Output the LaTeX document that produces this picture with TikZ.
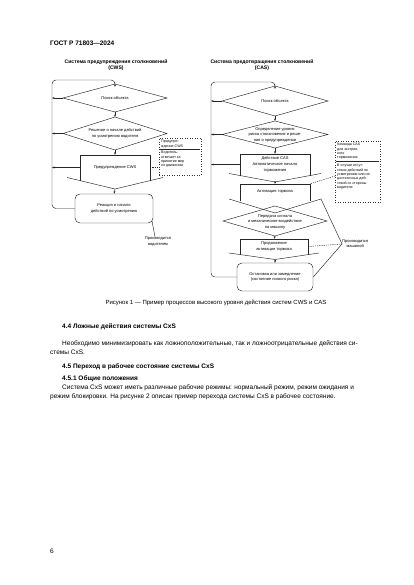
\documentclass[tikz,border=0pt]{standalone}
\usepackage{fontspec}
\setmainfont{Liberation Sans}
\usetikzlibrary{arrows.meta,calc}
\begin{document}
\begin{tikzpicture}[x=1pt,y=-1pt,
  ln/.style={line width=0.45pt,draw=black!85},
  arr/.style={ln,-{Stealth[length=2.6pt,width=2pt]}},
  dtxt/.style={font=\fontsize{4}{5.6}\selectfont,align=center,inner sep=0pt},
  ntxt/.style={font=\fontsize{3.6}{4.4}\selectfont,align=left,inner sep=0pt,anchor=north west},
  ttl/.style={font=\bfseries\fontsize{5.1}{6}\selectfont,align=center,inner sep=0pt},
  body/.style={font=\fontsize{6.5}{9}\selectfont,inner sep=0pt,anchor=base west},
  bhead/.style={font=\bfseries\fontsize{6.5}{9}\selectfont,inner sep=0pt,anchor=base west},
  boxr/.style={ln,draw,rounded corners=5pt,dtxt},
  notebox/.style={draw=black!80,dotted,line width=0.5pt,inner sep=0pt}]
\useasboundingbox[fill=white] (0,0) rectangle (414,585);

% header
\node[bhead] (hdr) at (50,45.5) {ГОСТ Р 71803—2024};

%================ LEFT (CWS) ================
\node[ttl] (ltl) at (116,65) {Система предупреждения столкновений\\(CWS)};

\coordinate (l1n) at (115,84); \coordinate (l1s) at (115,112);
\coordinate (l1w) at (63,98);  \coordinate (l1e) at (167,98);
\draw[ln] (l1n)--(l1e)--(l1s)--(l1w)--cycle;
\node[dtxt] (l1) at (115,98) {Поиск объекта};

\coordinate (l2n) at (115,117); \coordinate (l2s) at (115,150);
\coordinate (l2w) at (63,133.5); \coordinate (l2e) at (167,133.5);
\draw[ln] (l2n)--(l2e)--(l2s)--(l2w)--cycle;
\node[dtxt] (l2) at (115,133.5) {Решение о начале действий\\по усмотрению водителя};

\node[dtxt,minimum width=70pt,minimum height=25pt] (l3) at (115,167.5) {Предупреждение CWS};
\draw[ln] ($(l3.south west)+(0,1)$) -- (l3.north west) -- (l3.north east) -- ($(l3.south east)+(0,1)$);
\coordinate (l3a) at (115,189);
\coordinate (l3vl) at (67,177.5); \coordinate (l3vr) at (163,177.5);
\draw[ln] (l3vl) -- (l3a) -- (l3vr);

\node[notebox,minimum width=42pt,minimum height=37pt] (lnote) at (180,156.5) {};
\node[ntxt] (lnt1) at (161,140) {Предупре-\\ждение CWS};
\draw[ln,line width=0.35pt] (160,149.5) -- (200,149.5);
\node[ntxt] (lnt2) at (161,151) {Водитель-\\отвечает за\\принятие мер\\по движению};
\draw[ln,dashed,dash pattern=on 1.2pt off 1pt] (l3.east) -- (lnote.west |- l3.east);

\node[boxr,minimum width=78pt,minimum height=29pt] (l4) at (114,208.5) {Реакция и начало\\действий по усмотрению};
\node[dtxt] (lp) at (158,241.5) {Производится\\водителем};
\coordinate (l4c) at (152,221);
\draw[ln] (l4c) -- ($(lp.north)+(-3,0)$);

\draw[arr] (l1s) -- (l2n);
\draw[arr] (l2s) -- (l3.north);
\draw[arr] (l3a) -- (l4.north);

\coordinate (lxa) at (52,98); \coordinate (lxb) at (52,133.5); \coordinate (lxc) at (52,167.5);
\draw[arr] (l1w) -- (lxa);
\draw[arr] (l2w) -- (lxb);
\draw[arr] (l3.west) -- (lxc);
\draw[arr,rounded corners=4pt] (l4.west) -- (52,208.5) -- (52,80) -- (115,80) -- (l1n);

%================ RIGHT (CAS) ================
\node[ttl] (rtl) at (262,65) {Система предотвращения столкновений\\(CAS)};

\coordinate (r1n) at (275,86); \coordinate (r1s) at (275,116);
\coordinate (r1w) at (222,101); \coordinate (r1e) at (328,101);
\draw[ln] (r1n)--(r1e)--(r1s)--(r1w)--cycle;
\node[dtxt] (r1) at (275,101) {Поиск объекта};

\coordinate (r2n) at (275,121); \coordinate (r2s) at (275,148);
\coordinate (r2w) at (222,134.5); \coordinate (r2e) at (328,134.5);
\draw[ln] (r2n)--(r2e)--(r2s)--(r2w)--cycle;
\node[dtxt,font=\fontsize{4}{5.8}\selectfont] (r2) at (275,135) {Определение уровня\\риска столкновения и реше-\\ния о предупреждении};

\node[dtxt,minimum width=70pt,minimum height=21pt] (r3) at (275,164.5) {Действие CAS\\Автоматическое начало\\торможения};
\draw[ln] ($(r3.south west)+(0,1)$) -- (r3.north west) -- (r3.north east) -- ($(r3.south east)+(0,1)$);
\coordinate (r3a) at (275,182);
\coordinate (r3vl) at (229,173.5); \coordinate (r3vr) at (321,173.5);
\draw[ln] (r3vl) -- (r3a) -- (r3vr);

\node[dtxt,minimum width=70pt,minimum height=16pt] (r4) at (275,192) {Активация тормоза};
\draw[ln] ($(r4.south west)+(0,1)$) -- (r4.north west) -- (r4.north east) -- ($(r4.south east)+(0,1)$);
\coordinate (r4a) at (275,213);
\coordinate (r4vl) at (229,199); \coordinate (r4vr) at (321,199);
\draw[ln] (r4vl) -- (r4a) -- (r4vr);

\coordinate (r5n) at (275,206); \coordinate (r5s) at (275,236);
\coordinate (r5w) at (223,221); \coordinate (r5e) at (327,221);
\draw[ln] (r5n)--(r5e)--(r5s)--(r5w)--cycle;
\node[dtxt] (r5) at (275,222) {Передача сигнала\\и механическое воздействие\\на машину};

\node[dtxt,minimum width=68pt,minimum height=15pt] (r6) at (274,246.5) {Продолжение\\активации тормоза};
\draw[ln] ($(r6.south west)+(0,1)$) -- (r6.north west) -- (r6.north east) -- ($(r6.south east)+(0,1)$);
\coordinate (r6a) at (275,259.5);
\coordinate (r6vl) at (229,253); \coordinate (r6vr) at (319,253);
\draw[ln] (r6vl) -- (r6a) -- (r6vr);

\node[boxr,minimum width=76pt,minimum height=28pt] (r7) at (275,277) {Остановка или замедление\\(состояние низкого риска)};

\node[notebox,minimum width=45pt,minimum height=61pt] (rnote) at (357.5,171.5) {};
\node[ntxt] (rnt1) at (337,143) {Команда CAS\\для экстрен-\\ного\\торможения};
\draw[ln,line width=0.35pt] (336,161.5) -- (379,161.5);
\node[ntxt] (rnt2) at (337,164) {В случае отсут-\\ствия действий по\\усмотрению или не-\\достаточных дей-\\ствий со стороны\\водителя};
\coordinate (rnc) at (335,176);
\draw[ln,dashed,dash pattern=on 1.2pt off 1pt] (rnc) -- (r4.north east);

\node[dtxt,anchor=west] (rp) at (342,244) {\begin{tabular}{@{}c@{}}Производится\\машиной\end{tabular}};
\draw[ln] (r4vr) -- (rp.west);
\draw[ln,dashed,dash pattern=on 1.2pt off 1pt] (r6.east) -- (rp.west);
\draw[ln] (rp.west) -- (r7.east);

\draw[arr] (r1s) -- (r2n);
\draw[arr] (r2s) -- (r3.north);
\draw[arr] (r3a) -- (r4.north);
\draw[arr] (r5s) -- (r6.north);
\draw[arr] (r6a) -- (r7.north);

\coordinate (rxa) at (211,101); \coordinate (rxb) at (211,134.5); \coordinate (rxc) at (211,164.5);
\draw[arr] (r1w) -- (rxa);
\draw[arr] (r2w) -- (rxb);
\draw[arr] (r3.west) -- (rxc);
\draw[arr,rounded corners=4pt] (r7.west) -- (211,277) -- (211,82) -- (275,82) -- (r1n);

% caption
\node[font=\fontsize{6}{7}\selectfont,inner sep=0pt] (cap) at (216,303) {Рисунок 1 — Пример процессов высокого уровня действия систем CWS и CAS};

% text
\node[bhead] (s44) at (62,328) {4.4 Ложные действия системы CxS};
\node[body] (p1) at (62,345.5) {Необходимо минимизировать как ложноположительные, так и ложноотрицательные действия си-};
\node[body] (p2) at (50,354.5) {стемы CxS.};
\node[bhead] (s45) at (62,368.5) {4.5 Переход в рабочее состояние системы CxS};
\node[bhead] (s451) at (62,380) {4.5.1 Общие положения};
\node[body] (p3) at (62,389) {Система CxS может иметь различные рабочие режимы: нормальный режим, режим ожидания и};
\node[body] (p4) at (50,398) {режим блокировки. На рисунке 2 описан пример перехода системы CxS в рабочее состояние.};

\node[body] (pg) at (50,553.5) {6};
\end{tikzpicture}
\end{document}
